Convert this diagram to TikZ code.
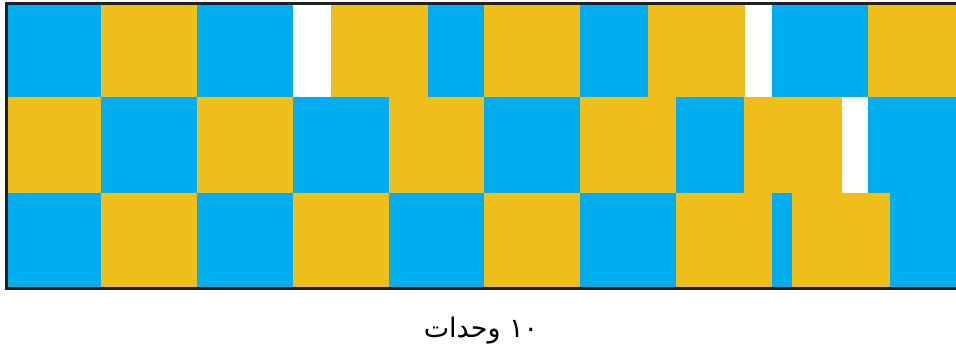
\documentclass[tikz,border=0pt]{standalone}
\usepackage{fontspec}
\newfontfamily\arabicfont[Script=Arabic]{DejaVu Sans}
\TeXXeTstate=1
\definecolor{cb}{HTML}{00AEEF}
\definecolor{cy}{HTML}{F0BE1A}
\definecolor{frm}{HTML}{231F20}
\begin{document}
\begin{tikzpicture}[x=1pt,y=-1pt,
  bl/.style={fill=cb},
  yl/.style={fill=cy},
  wt/.style={fill=white},
  frameline/.style={line width=3pt,draw=frm}]
\useasboundingbox (0,0) rectangle (956,352);
% Row 1
\path[bl] (8,5) rectangle (101,97);
\path[yl] (101,5) rectangle (197,97);
\path[bl] (197,5) rectangle (293,97);
\path[wt] (293,5) rectangle (331,97);
\path[yl] (331,5) rectangle (428,97);
\path[bl] (428,5) rectangle (484,97);
\path[yl] (484,5) rectangle (580,97);
\path[bl] (580,5) rectangle (648,97);
\path[yl] (648,5) rectangle (745,97);
\path[wt] (745,5) rectangle (772,97);
\path[bl] (772,5) rectangle (868,97);
\path[yl] (868,5) rectangle (956,97);
% Row 2
\path[yl] (8,97) rectangle (101,193);
\path[bl] (101,97) rectangle (197,193);
\path[yl] (197,97) rectangle (293,193);
\path[bl] (293,97) rectangle (389,193);
\path[yl] (389,97) rectangle (484,193);
\path[bl] (484,97) rectangle (580,193);
\path[yl] (580,97) rectangle (676,193);
\path[bl] (676,97) rectangle (744,193);
\path[yl] (744,97) rectangle (842,193);
\path[wt] (842,97) rectangle (868,193);
\path[bl] (868,97) rectangle (956,193);
% Row 3
\path[bl] (8,193) rectangle (101,287);
\path[yl] (101,193) rectangle (197,287);
\path[bl] (197,193) rectangle (293,287);
\path[yl] (293,193) rectangle (389,287);
\path[bl] (389,193) rectangle (484,287);
\path[yl] (484,193) rectangle (580,287);
\path[bl] (580,193) rectangle (676,287);
\path[yl] (676,193) rectangle (772,287);
\path[bl] (772,193) rectangle (792,287);
\path[yl] (792,193) rectangle (890,287);
\path[bl] (890,193) rectangle (956,287);
% frame
\draw[frameline] (956,3.5) -- (6.5,3.5) -- (6.5,288.5) -- (956,288.5);
% label
\node[inner sep=0pt] (lbl) at (481,331) {\arabicfont\fontsize{27}{32}\selectfont\beginR\beginL ١٠\endL{} وحدات\endR};
\end{tikzpicture}
\end{document}
